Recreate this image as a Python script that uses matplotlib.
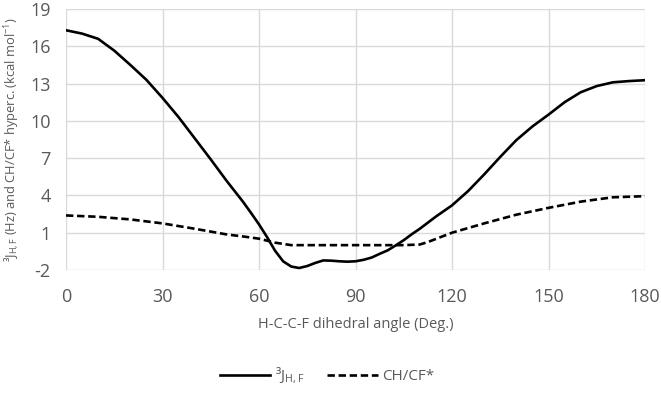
import matplotlib
matplotlib.use("Agg")
from matplotlib import pyplot as plt

# dihedral angle (deg) and values
angle_j = [0, 5, 10, 15, 20, 25, 30, 35, 40, 45, 50, 55, 57.5, 60, 62.5, 65,
           67.5, 70, 72.5, 75, 77.5, 80, 82.5, 85, 87.5, 90, 92.5, 95, 97.5,
           100, 102.5, 105, 107.5, 110, 115, 120, 125, 130, 135, 140, 145,
           150, 155, 160, 165, 170, 175, 180]
j_hf = [17.29, 17.02, 16.6, 15.65, 14.5, 13.3, 11.85, 10.3, 8.6, 6.9, 5.15,
        3.5, 2.6, 1.67, 0.65, -0.45, -1.3, -1.72, -1.84, -1.68, -1.43, -1.23,
        -1.25, -1.3, -1.33, -1.3, -1.18, -1.0, -0.7, -0.42, -0.02, 0.4, 0.88,
        1.32, 2.3, 3.2, 4.35, 5.69, 7.1, 8.45, 9.55, 10.5, 11.5, 12.3, 12.8,
        13.1, 13.2, 13.27]

angle_hyp = [0, 10, 20, 30, 40, 50, 55, 60, 65, 70, 80, 90, 100, 105, 110,
             112.5, 115, 117.5, 120, 130, 140, 150, 160, 170, 180]
hyperc = [2.39, 2.28, 2.07, 1.75, 1.32, 0.86, 0.7, 0.52, 0.2, 0.0, 0.0, 0.0,
          0.0, 0.0, 0.05, 0.25, 0.5, 0.75, 1.0, 1.75, 2.45, 3.0, 3.5, 3.85,
          3.94]

x_ticks = [0, 30, 60, 90, 120, 150, 180]
y_ticks = [-2, 1, 4, 7, 10, 13, 16, 19]

plt.rcParams['font.family'] = ['Open Sans', 'DejaVu Sans']
plt.rcParams['axes.unicode_minus'] = False
text_color = '#595959'

fig = plt.figure(figsize=(6.61, 3.96), dpi=100)
ax = fig.add_axes([66 / 661, 1 - 270 / 396, 579 / 661, 261 / 396])

ax.plot(angle_j, j_hf, color='black', lw=1.9, solid_joinstyle='round',
        label='³J$_{\\mathregular{H,F}}$')
ax.plot(angle_hyp, hyperc, color='black', lw=1.9, linestyle=(0, (2.8, 1.4)),
        label='CH/CF*')

ax.set_xlim(0, 180)
ax.set_ylim(-2, 19)
ax.set_xticks(x_ticks)
ax.set_yticks(y_ticks)
ax.grid(True, color='#d9d9d9', lw=1)
ax.set_axisbelow(True)
for s in ax.spines.values():
    s.set_visible(False)
ax.tick_params(axis='both', length=0, labelsize=13, labelcolor=text_color)
ax.tick_params(axis='x', pad=13)
ax.tick_params(axis='y', pad=11)

ax.set_xlabel('H-C-C-F dihedral angle (Deg.)', fontsize=10.5,
              color=text_color, labelpad=8)
ax.set_ylabel('³J$_{\\mathregular{H,F}}$ (Hz) and CH/CF* hyperc. '
              '(kcal mol$^{\\mathregular{-1}}$)', fontsize=9.3,
              color=text_color)
ax.yaxis.set_label_coords(-0.076, 0.5)

leg = fig.legend(loc='center', bbox_to_anchor=(0.495, 1 - 376 / 396), ncol=2,
                 frameon=False, fontsize=11, handlelength=3.3,
                 columnspacing=1.5, handletextpad=0.3)
for t in leg.get_texts():
    t.set_color(text_color)

fig.savefig('out.png', dpi=100)
